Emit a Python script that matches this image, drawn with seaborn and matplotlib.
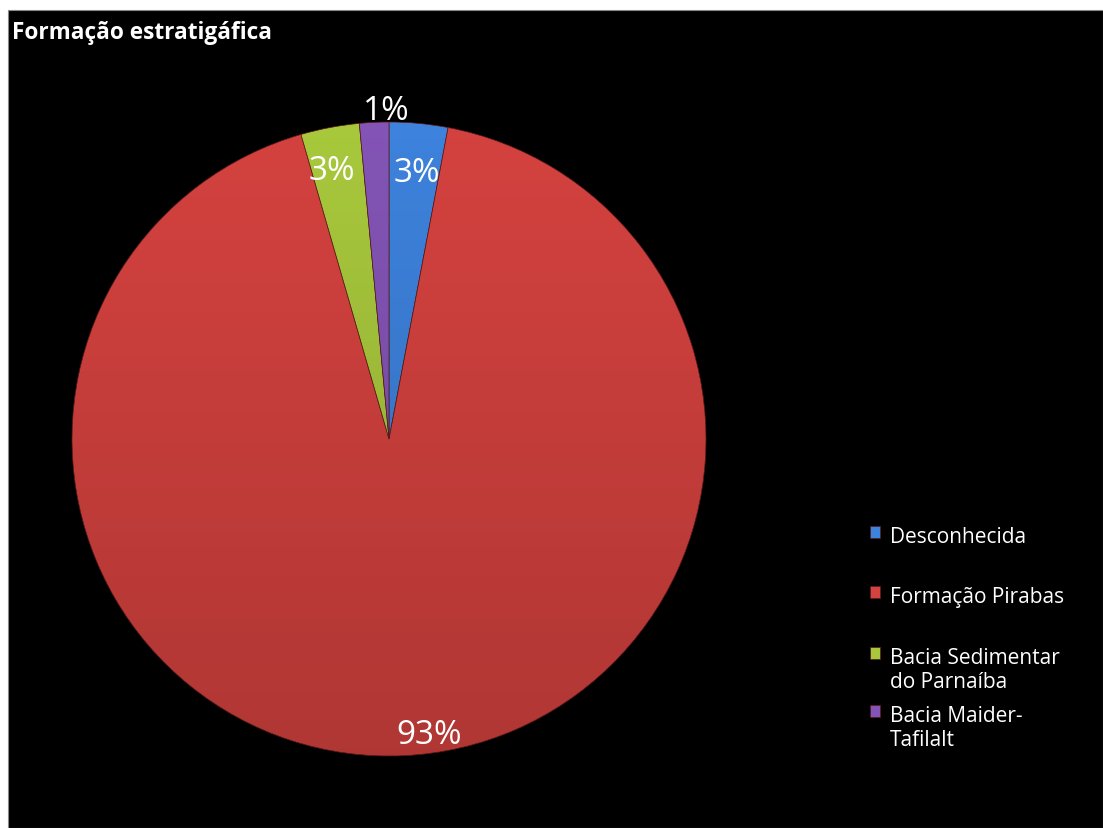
import numpy as np
import matplotlib
matplotlib.use("Agg")
import matplotlib.pyplot as plt
import seaborn as sns
from matplotlib.patches import Rectangle, Circle

categories = ["Desconhecida", "Formação Pirabas", "Bacia Sedimentar\ndo Parnaíba", "Bacia Maider-\nTafilalt"]
values = [2, 62, 2, 1]
pct_labels = ["3%", "93%", "3%", "1%"]
title = "Formação estratigáfica"

colors = ["#3d82dc", "#d4423f", "#a8c83c", "#8354b5"]
label_dist = [0.845, 0.94, 0.865, 1.035]
label_shift = [-0.5, 5.0, 1.2, -2.2]

sns.set_theme(style="dark")
plt.rcParams['font.family'] = ['Open Sans', 'DejaVu Sans']

W, H = 1103, 829
fig = plt.figure(figsize=(W / 100, H / 100), dpi=100, facecolor="white")
fig.patches.append(Rectangle((8 / W, 0), 1 - 8 / W, 1 - 11 / H, transform=fig.transFigure,
                             facecolor="black", edgecolor="#888888", linewidth=0.8, zorder=-5))

cx, cy, r = 389, 440, 317
ax = fig.add_axes([(cx - r) / W, (H - cy - r) / H, 2 * r / W, 2 * r / H])
ax.set_facecolor("none")
ax.set_zorder(2)

wedges, _ = ax.pie(values, colors=colors, startangle=90, counterclock=False,
                   wedgeprops=dict(edgecolor="#5a1a18", linewidth=0.5))

# subtle vertical shading like the original
grad = np.linspace(0, 1, 256).reshape(-1, 1)
img = ax.imshow(np.dstack([np.zeros_like(grad)] * 3 + [0.17 * grad]), extent=(-1, 1, -1, 1),
                origin="upper", aspect="auto", zorder=3)
img.set_clip_path(Circle((0, 0), 1, transform=ax.transData))
ax.set_xlim(-1, 1)
ax.set_ylim(-1, 1)
ax.set_aspect("equal")

for w, lab, d, s in zip(wedges, pct_labels, label_dist, label_shift):
    ang = np.deg2rad((w.theta1 + w.theta2) / 2 + s)
    ax.text(d * np.cos(ang), d * np.sin(ang), lab, ha="center", va="center",
            color="white", fontsize=24, zorder=5)

fig.text(12 / W, 1 - 33 / H, title, ha="left", va="center", color="white",
         fontsize=16.3, fontweight="bold")

leg_kw = dict(loc="upper left", frameon=False, fontsize=15, labelcolor="white",
              handlelength=0.5, handleheight=0.5, handletextpad=0.45)
leg1 = fig.legend(wedges[:2], categories[:2], bbox_to_anchor=(851 / W, 1 - 508 / H),
                  labelspacing=1.88, **leg_kw)
leg2 = fig.legend(wedges[2:], categories[2:], bbox_to_anchor=(851 / W, 1 - 629 / H),
                  labelspacing=0.62, **leg_kw)
for lg in (leg1, leg2):
    for col in lg._legend_handle_box.get_children():
        for row in col.get_children():
            row.align = "top"

fig.savefig("out.png", dpi=100, facecolor="white")
